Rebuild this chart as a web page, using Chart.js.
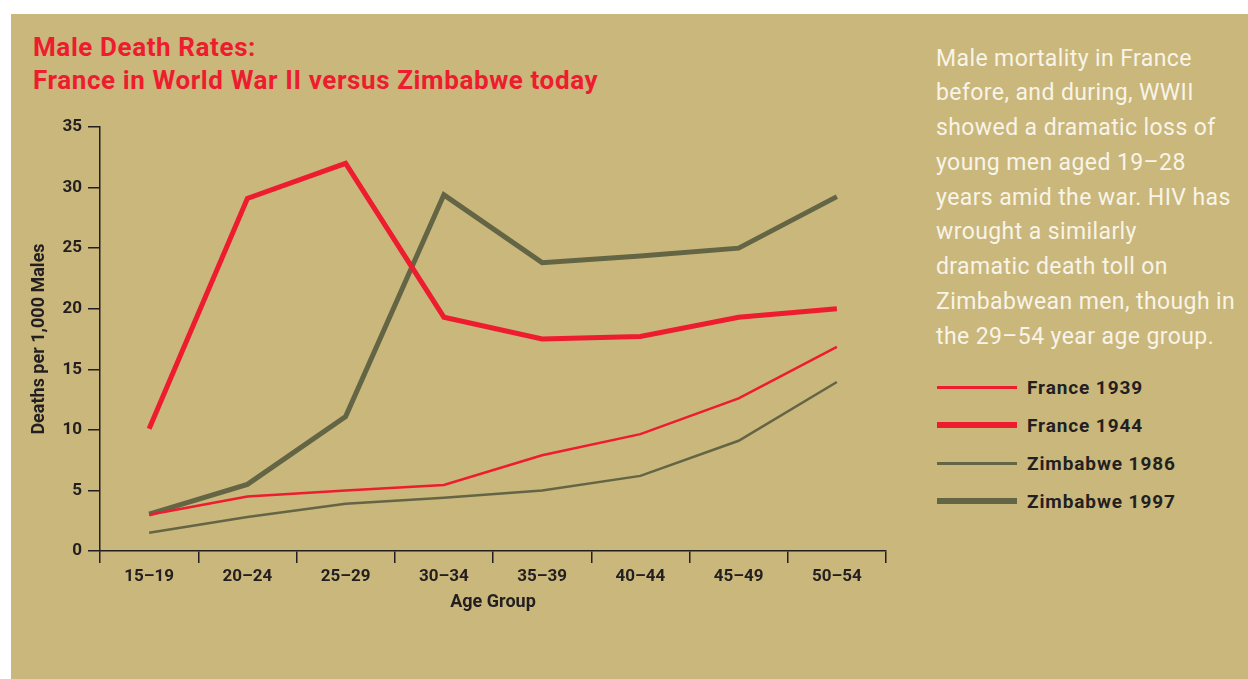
<!DOCTYPE html>
<html>
<head>
<meta charset="utf-8">
<script src="https://cdn.jsdelivr.net/npm/chart.js@4"></script>
<style>
  html, body { margin: 0; padding: 0; background: #fff; }
  body { width: 1248px; height: 679px; position: relative; overflow: hidden; font-family: Roboto, "Noto Sans", sans-serif; }
  #panel { position: absolute; left: 11px; top: 14px; right: 0; bottom: 0; background: #cab77b; }
  #title { position: absolute; left: 33px; top: 31px; color: #ed1c2e; font-weight: bold; font-size: 26px; letter-spacing: 0.6px; line-height: 32.5px; white-space: nowrap; }
  #note { position: absolute; left: 936px; top: 41.5px; color: #f8f4e8; font-size: 23px; letter-spacing: 0.4px; line-height: 34.75px; white-space: nowrap; }
  #legend { position: absolute; left: 937px; top: 368px; }
  .row { display: flex; align-items: center; height: 38px; }
  .swatch { width: 80px; margin-right: 10px; }
  .row span { font-weight: bold; font-size: 19px; letter-spacing: 0.9px; color: #231f20; }
  #wrap { position: absolute; left: 11px; top: 100px; width: 900px; height: 560px; }
</style>
</head>
<body>
<div id="panel"></div>
<div id="title">Male Death Rates:<br>France in World War II versus Zimbabwe today</div>
<div id="note">Male mortality in France<br>before, and during, WWII<br>showed a dramatic loss of<br>young men aged 19–28<br>years amid the war. HIV has<br>wrought a similarly<br>dramatic death toll on<br>Zimbabwean men, though in<br>the 29–54 year age group.</div>
<div id="legend"></div>
<div id="wrap"><canvas id="myChart"></canvas></div>
<script>
// DATA
const ageGroups = ['15–19', '20–24', '25–29', '30–34', '35–39', '40–44', '45–49', '50–54'];
const france1939 = [3.0, 4.5, 5.0, 5.45, 7.9, 9.65, 12.6, 16.85];
const france1944 = [10.1, 29.1, 32.0, 19.3, 17.5, 17.7, 19.3, 20.0];
const zimbabwe1986 = [1.5, 2.8, 3.9, 4.4, 5.0, 6.2, 9.1, 13.95];
const zimbabwe1997 = [3.05, 5.5, 11.1, 29.4, 23.8, 24.35, 25.0, 29.25];
const yTicks = [0, 5, 10, 15, 20, 25, 30, 35];

const red = '#ed1c2e';
const olive = '#636545';
const ink = '#231f20';

const datasets = [
    { label: 'France 1939', data: france1939, borderColor: red, borderWidth: 2.5 },
    { label: 'France 1944', data: france1944, borderColor: red, borderWidth: 5 },
    { label: 'Zimbabwe 1986', data: zimbabwe1986, borderColor: olive, borderWidth: 2.5 },
    { label: 'Zimbabwe 1997', data: zimbabwe1997, borderColor: olive, borderWidth: 5 }
];

// LEGEND BUILT FROM THE DATASETS
const legend = document.getElementById('legend');
datasets.forEach(ds => {
    const row = document.createElement('div');
    row.className = 'row';
    const sw = document.createElement('div');
    sw.className = 'swatch';
    sw.style.height = (ds.borderWidth + 0.5) + 'px';
    sw.style.background = ds.borderColor;
    const txt = document.createElement('span');
    txt.textContent = ds.label;
    row.appendChild(sw);
    row.appendChild(txt);
    legend.appendChild(row);
});

const tickFont = { family: 'Roboto', weight: 'bold', size: 17 };

new Chart(document.getElementById('myChart'), {
    type: 'line',
    data: {
        labels: ageGroups,
        datasets: datasets.map(ds => Object.assign({
            pointRadius: 0,
            pointHoverRadius: 0,
            tension: 0,
            fill: false,
            borderJoinStyle: 'miter'
        }, ds))
    },
    options: {
        responsive: true,
        maintainAspectRatio: false,
        animation: false,
        events: [],
        layout: { padding: { top: 27, right: 25, left: 0, bottom: 0 } },
        plugins: { legend: { display: false }, tooltip: { enabled: false } },
        scales: {
            x: {
                offset: true,
                afterFit: axis => { axis.height = 109; },
                grid: { offset: true, drawOnChartArea: false, drawTicks: true, tickLength: 12, color: ink, lineWidth: 1.5 },
                border: { display: true, color: ink, width: 1.5 },
                ticks: { color: ink, font: tickFont, padding: 4, maxRotation: 0 },
                title: { display: true, text: 'Age Group', color: ink, font: { family: 'Roboto', weight: 'bold', size: 18 }, padding: { top: 0, bottom: 47 } }
            },
            y: {
                min: 0,
                max: 35,
                afterFit: axis => { axis.width = 89; },
                afterBuildTicks: axis => { axis.ticks = yTicks.map(v => ({ value: v })); },
                grid: { drawOnChartArea: false, drawTicks: true, tickLength: 12, color: ink, lineWidth: 1.5 },
                border: { display: true, color: ink, width: 1.5 },
                ticks: { color: ink, font: tickFont, padding: 6 },
                title: { display: true, text: 'Deaths per 1,000 Males', color: ink, font: { family: 'Roboto', weight: 'bold', size: 18 }, padding: { top: 18, bottom: 0 } }
            }
        }
    }
});
</script>
</body>
</html>
